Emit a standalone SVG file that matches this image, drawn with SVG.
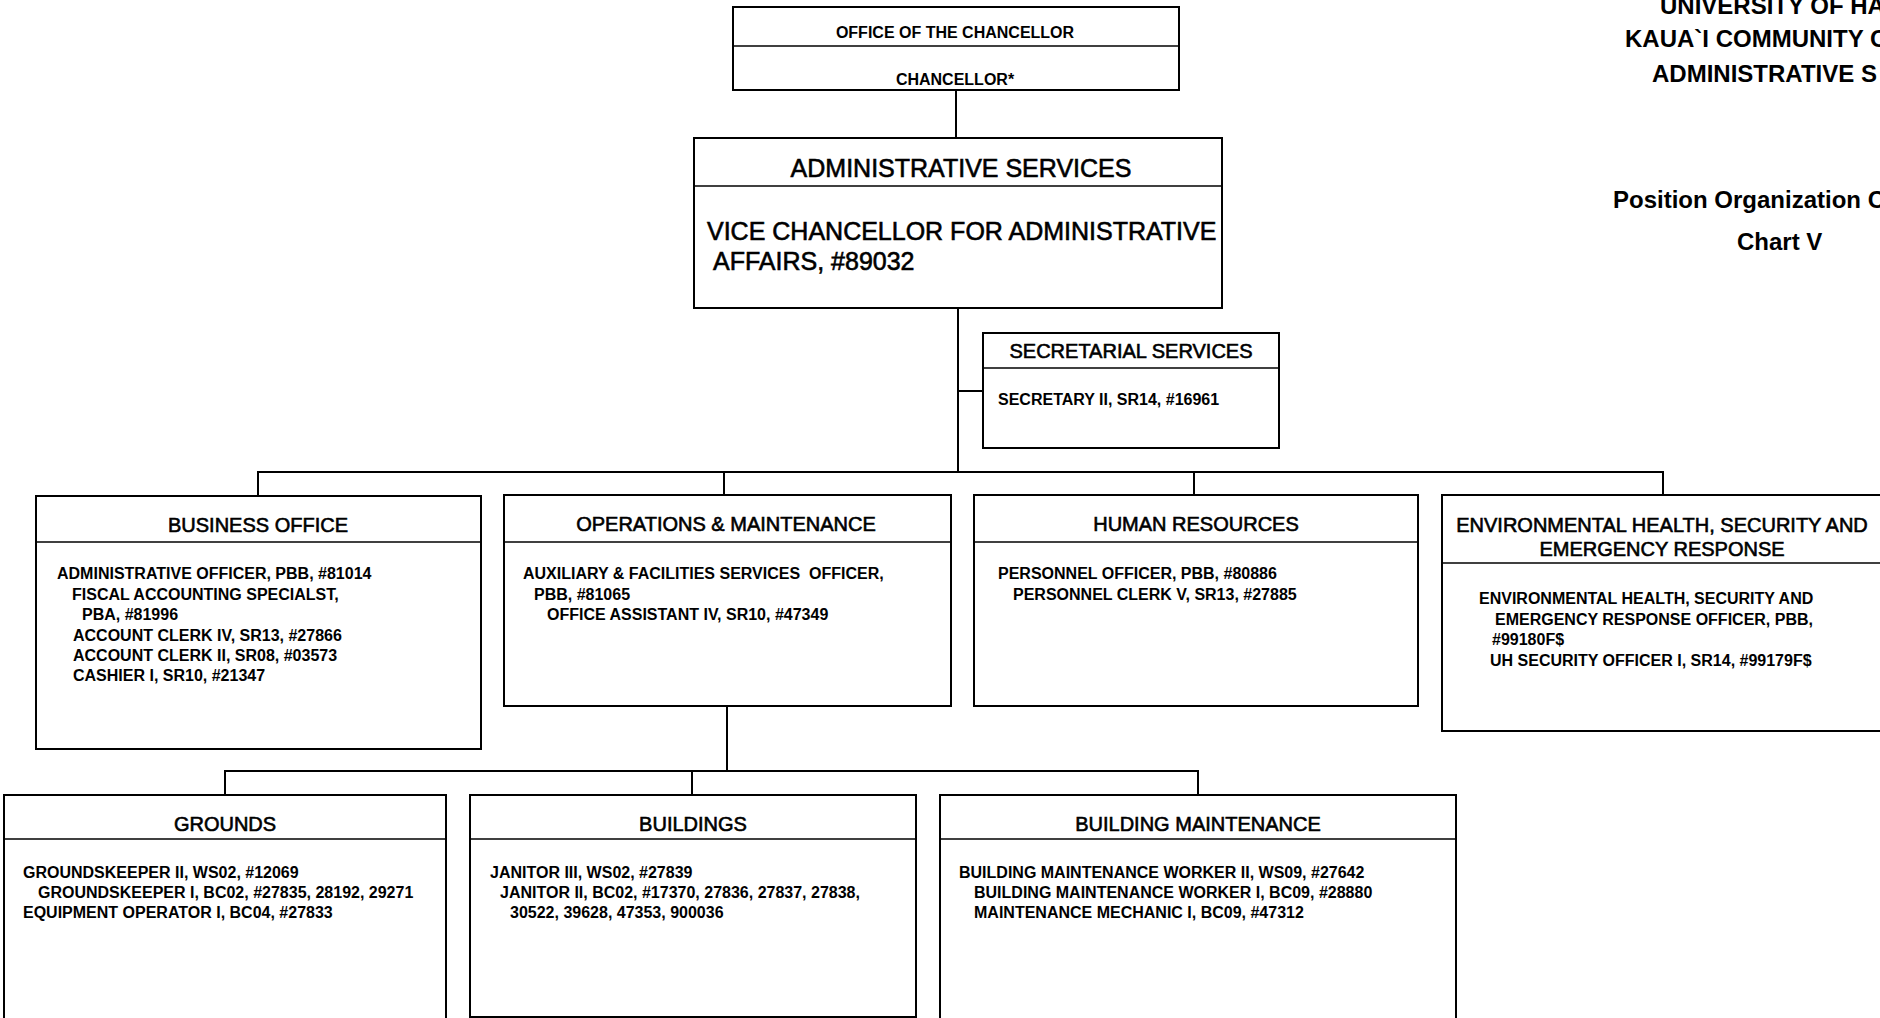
<svg xmlns="http://www.w3.org/2000/svg" width="1880" height="1018" viewBox="0 0 1880 1018">
<style>
.bx{fill:#fff;stroke:#000;stroke-width:2}
.dv{stroke:#000;stroke-width:1.6;fill:none}
.cn{stroke:#000;stroke-width:2;fill:none}
text{font-family:"Liberation Sans",Arial,Helvetica,sans-serif;fill:#000}
.b{font-size:16px;font-weight:bold}
.h{font-size:20px;text-anchor:middle;stroke:#000;stroke-width:0.6}
.ha{font-size:25px;stroke:#000;stroke-width:0.6}
.hd{font-size:24px;font-weight:bold}
.c{text-anchor:middle}
</style>
<rect width="1880" height="1018" fill="#fff"/>

<g id="connectors">
<path class="cn" d="M956,90V138"/>
<path class="cn" d="M958,308V472"/>
<path class="cn" d="M958,391H983"/>
<path class="cn" d="M258,496V472H1663V496"/>
<path class="cn" d="M724,472V496"/>
<path class="cn" d="M1194,472V496"/>
<path class="cn" d="M727,706V771"/>
<path class="cn" d="M225,795V771H1198V795"/>
<path class="cn" d="M692,771V795"/>
</g>

<g id="header">
<text class="hd" x="1660" y="14">UNIVERSITY OF HA</text>
<text class="hd" x="1625" y="47">KAUA`I COMMUNITY C</text>
<text class="hd" x="1652" y="82">ADMINISTRATIVE S</text>
<text class="hd" x="1613" y="208">Position Organization C</text>
<text class="hd" x="1737" y="250">Chart V</text>
</g>

<g id="chancellor">
<rect class="bx" x="733" y="7" width="446" height="83"/>
<line class="dv" x1="733" y1="46" x2="1179" y2="46"/>
<text class="b c" x="955" y="38">OFFICE OF THE CHANCELLOR</text>
<text class="b c" x="955" y="85">CHANCELLOR*</text>
</g>

<g id="admin-services">
<rect class="bx" x="694" y="138" width="528" height="170"/>
<line class="dv" x1="694" y1="186" x2="1222" y2="186"/>
<text class="ha c" x="961" y="177">ADMINISTRATIVE SERVICES</text>
<text class="ha" x="707" y="240">VICE CHANCELLOR FOR ADMINISTRATIVE</text>
<text class="ha" x="713" y="270">AFFAIRS, #89032</text>
</g>

<g id="secretarial">
<rect class="bx" x="983" y="333" width="296" height="115"/>
<line class="dv" x1="983" y1="368" x2="1279" y2="368"/>
<text class="h" x="1131" y="358">SECRETARIAL SERVICES</text>
<text class="b" x="998" y="405">SECRETARY II, SR14, #16961</text>
</g>

<g id="business-office">
<rect class="bx" x="36" y="496" width="445" height="253"/>
<line class="dv" x1="36" y1="542" x2="481" y2="542"/>
<text class="h" x="258" y="532">BUSINESS OFFICE</text>
<text class="b" x="57" y="579">ADMINISTRATIVE OFFICER, PBB, #81014</text>
<text class="b" x="72" y="599.5">FISCAL ACCOUNTING SPECIALST,</text>
<text class="b" x="82" y="620">PBA, #81996</text>
<text class="b" x="73" y="640.5">ACCOUNT CLERK IV, SR13, #27866</text>
<text class="b" x="73" y="661">ACCOUNT CLERK II, SR08, #03573</text>
<text class="b" x="73" y="681">CASHIER I, SR10, #21347</text>
</g>

<g id="operations-maintenance">
<rect class="bx" x="504" y="495" width="447" height="211"/>
<line class="dv" x1="504" y1="542" x2="951" y2="542"/>
<text class="h" x="726" y="531">OPERATIONS &amp; MAINTENANCE</text>
<text class="b" x="523" y="579">AUXILIARY &amp; FACILITIES SERVICES&#160; OFFICER,</text>
<text class="b" x="534" y="599.5">PBB, #81065</text>
<text class="b" x="547" y="620">OFFICE ASSISTANT IV, SR10, #47349</text>
</g>

<g id="human-resources">
<rect class="bx" x="974" y="495" width="444" height="211"/>
<line class="dv" x1="974" y1="542" x2="1418" y2="542"/>
<text class="h" x="1196" y="531">HUMAN RESOURCES</text>
<text class="b" x="998" y="579">PERSONNEL OFFICER, PBB, #80886</text>
<text class="b" x="1013" y="599.5">PERSONNEL CLERK V, SR13, #27885</text>
</g>

<g id="environmental-health">
<rect class="bx" x="1442" y="495" width="445" height="236"/>
<line class="dv" x1="1442" y1="563" x2="1887" y2="563"/>
<text class="h" x="1662" y="532">ENVIRONMENTAL HEALTH, SECURITY AND</text>
<text class="h" x="1662" y="556">EMERGENCY RESPONSE</text>
<text class="b" x="1479" y="604">ENVIRONMENTAL HEALTH, SECURITY AND</text>
<text class="b" x="1495" y="624.5">EMERGENCY RESPONSE OFFICER, PBB,</text>
<text class="b" x="1492" y="645">#99180F$</text>
<text class="b" x="1490" y="665.5">UH SECURITY OFFICER I, SR14, #99179F$</text>
</g>

<g id="grounds">
<rect class="bx" x="4" y="795" width="442" height="240"/>
<line class="dv" x1="4" y1="839" x2="446" y2="839"/>
<text class="h" x="225" y="831">GROUNDS</text>
<text class="b" x="23" y="878">GROUNDSKEEPER II, WS02, #12069</text>
<text class="b" x="38" y="898">GROUNDSKEEPER I, BC02, #27835, 28192, 29271</text>
<text class="b" x="23" y="918">EQUIPMENT OPERATOR I, BC04, #27833</text>
</g>

<g id="buildings">
<rect class="bx" x="470" y="795" width="446" height="222"/>
<line class="dv" x1="470" y1="839" x2="916" y2="839"/>
<text class="h" x="693" y="831">BUILDINGS</text>
<text class="b" x="490" y="878">JANITOR III, WS02, #27839</text>
<text class="b" x="500" y="898">JANITOR II, BC02, #17370, 27836, 27837, 27838,</text>
<text class="b" x="510" y="918">30522, 39628, 47353, 900036</text>
</g>

<g id="building-maintenance">
<rect class="bx" x="940" y="795" width="516" height="240"/>
<line class="dv" x1="940" y1="839" x2="1456" y2="839"/>
<text class="h" x="1198" y="831">BUILDING MAINTENANCE</text>
<text class="b" x="959" y="878">BUILDING MAINTENANCE WORKER II, WS09, #27642</text>
<text class="b" x="974" y="898">BUILDING MAINTENANCE WORKER I, BC09, #28880</text>
<text class="b" x="974" y="918">MAINTENANCE MECHANIC I, BC09, #47312</text>
</g>
</svg>
